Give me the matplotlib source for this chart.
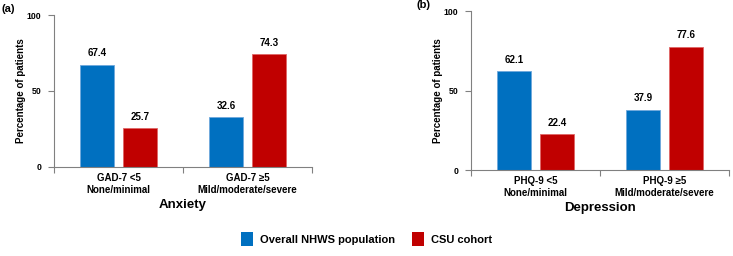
import numpy as np
import matplotlib
matplotlib.use("Agg")
import matplotlib.pyplot as plt
from matplotlib.patches import Patch

plt.rcParams['font.family'] = ['Liberation Sans', 'DejaVu Sans']
plt.rcParams['font.weight'] = 'bold'

anx_labels = ["GAD-7 <5\nNone/minimal", "GAD-7 \u22655\nMild/moderate/severe"]
anx_nhws = [67.4, 32.6]
anx_csu = [25.7, 74.3]

dep_labels = ["PHQ-9 <5\nNone/minimal", "PHQ-9 \u22655\nMild/moderate/severe"]
dep_nhws = [62.1, 37.9]
dep_csu = [22.4, 77.6]

blue = "#0070C0"
red = "#C00000"

fig = plt.figure(figsize=(7.33, 2.56), dpi=100)
ax1 = fig.add_axes([0.0737, 0.3477, 0.352, 0.5937])
ax2 = fig.add_axes([0.6426, 0.3359, 0.352, 0.621])


def draw(ax, labels, nhws, csu, title, tag, tagx):
    x = np.arange(len(labels))
    w = 0.265
    off = 0.168
    b1 = ax.bar(x - off, nhws, w, color=blue, edgecolor="#6FA8DC", linewidth=0.6)
    b2 = ax.bar(x + off, csu, w, color=red, edgecolor="#E06666", linewidth=0.6)
    for bars, vals in ((b1, nhws), (b2, csu)):
        for b, v in zip(bars, vals):
            ax.text(b.get_x() + b.get_width() / 2, v + 4, f"{v:.1f}",
                    ha="center", va="bottom", fontsize=7, fontweight="bold")
    ax.set_xlim(-0.5, 1.5)
    ax.set_ylim(0, 100)
    ax.set_yticks([0, 50, 100])
    ax.set_xticks([-0.5, 0.5, 1.5])
    ax.set_xticklabels([])
    ax.set_xticks(x, minor=True)
    ax.set_xticklabels(labels, minor=True, fontsize=7, fontweight="bold",
                       linespacing=1.3)
    ax.tick_params(axis="x", which="minor", length=0, pad=4)
    ax.tick_params(axis="x", which="major", length=4, color="#808080")
    ax.tick_params(axis="y", length=4, color="#808080", labelsize=6.3, pad=5)
    for lab in ax.get_yticklabels():
        lab.set_fontweight("bold")
    for s in ("top", "right"):
        ax.spines[s].set_visible(False)
    for s in ("left", "bottom"):
        ax.spines[s].set_color("#808080")
        ax.spines[s].set_linewidth(0.8)
    ax.set_ylabel("Percentage of patients", fontsize=7, fontweight="bold", labelpad=1)
    ax.set_xlabel(title, fontsize=9.5, fontweight="bold", labelpad=3)
    fig.text(tagx, ax.get_position().y1 + 0.005, tag, fontsize=8,
             fontweight="bold", ha="left", va="bottom")


draw(ax1, anx_labels, anx_nhws, anx_csu, "Anxiety", "(a)", 0.002)
draw(ax2, dep_labels, dep_nhws, dep_csu, "Depression", "(b)", 0.568)

handles = [Patch(facecolor=blue), Patch(facecolor=red)]
fig.legend(handles, ["Overall NHWS population", "CSU cohort"], loc="center",
           bbox_to_anchor=(0.5, 0.066), ncol=2, frameon=False,
           handlelength=1.1, handleheight=1.6, columnspacing=1.5, handletextpad=0.6,
           prop={"weight": "bold", "size": 8})

fig.savefig("out.png", dpi=100)
